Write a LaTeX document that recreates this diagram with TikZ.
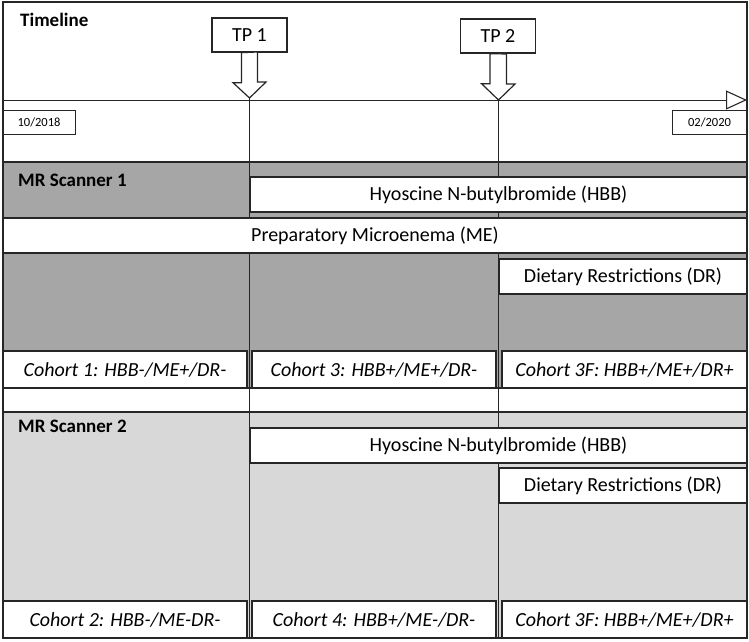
\documentclass[tikz,border=0pt]{standalone}
\usepackage{fontspec}
\setmainfont{Carlito}
\usetikzlibrary{arrows.meta,calc}
\definecolor{dgrey}{HTML}{A6A6A6}
\definecolor{lgrey}{HTML}{D8D8D8}
\definecolor{ln}{HTML}{262626}
\begin{document}
\begin{tikzpicture}[x=1pt,y=-1pt,
  box/.style={draw=ln, line width=1.3pt, fill=white, inner sep=0pt, font=\fontsize{20}{24}\selectfont},
  cbox/.style={box, minimum height=37, font=\fontsize{20}{24}\selectfont\itshape},
  bar/.style={box, minimum height=35},
  tpbox/.style={box, minimum width=75, minimum height=34},
  datebox/.style={box, line width=1pt, minimum height=24, font=\fontsize{12.5}{14}\selectfont},
  title/.style={anchor=base west, inner sep=0pt, font=\fontsize{19}{22}\selectfont\bfseries},
  thinline/.style={draw=ln, line width=0.9pt},
  sepline/.style={draw=ln, line width=1.4pt},
  blockarrow/.style={draw=ln, fill=white, line width=1.2pt, line join=miter}]
\useasboundingbox (0,0) rectangle (749,641);
% backgrounds
\fill[dgrey] (3,162) rectangle (747,388);
\fill[lgrey] (3,412) rectangle (747,638);
% timeline
\coordinate (ts) at (3,100);
\coordinate (te) at (747,100);
\draw[thinline, -{Triangle[open, length=21pt, width=19pt, line width=1.1pt]}] (ts) -- (te);
\node[title] (tl) at (20,26) {Timeline};
\node[tpbox] (tp1) at (249.5,35) {TP 1};
\node[tpbox] (tp2) at (498,36) {TP 2};
\coordinate (tip1) at (249.5,98);
\coordinate (tip2) at (498.5,100);
\coordinate (v1b) at (249.5,638);
\coordinate (v2b) at (498.5,638);
\draw[thinline] (tip1) -- (v1b);
\draw[thinline] (tip2) -- (v2b);
\draw[blockarrow] ($(tp1.south)+(-8,0)$) -- ++(0,30) -- ++(-8.5,0) -- (tip1) -- ++(16.5,-16) -- ++(-8.5,0) -- ++(0,-30) -- cycle;
\draw[blockarrow] ($(tp2.south)+(-8,0)$) -- ++(0,30) -- ++(-8.5,0) -- (tip2) -- ++(16.5,-16) -- ++(-8.5,0) -- ++(0,-30) -- cycle;
\node[datebox, minimum width=72] (d1) at (39,122) {10/2018};
\node[datebox, minimum width=75] (d2) at (709.5,122) {02/2020};
% separators
\draw[sepline] (3,162) -- (747,162);
\draw[sepline] (3,412) -- (747,412);
\draw[sepline] (3,388) -- (747,388);
% scanner 1
\node[title] (s1) at (18,186) {MR Scanner 1};
\node[bar, minimum width=497] (hbb1) at (498.5,194.5) {Hyoscine N-butylbromide (HBB)};
\node[bar, minimum width=744] (me) at (375,235.5) {Preparatory Microenema (ME)};
\node[bar, minimum width=248] (dr1) at (623,276.5) {Dietary Restrictions (DR)};
\node[cbox, minimum width=244] (c1) at (125,369.5) {Cohort 1: HBB-/ME+/DR-};
\node[cbox, minimum width=244] (c3) at (374,369.5) {Cohort 3: HBB+/ME+/DR-};
\node[cbox, minimum width=245] (c3f) at (624.5,369.5) {Cohort 3F: HBB+/ME+/DR+};
% scanner 2
\node[title] (s2) at (18,432) {MR Scanner 2};
\node[bar, minimum width=497] (hbb2) at (498.5,445.5) {Hyoscine N-butylbromide (HBB)};
\node[bar, minimum width=248] (dr2) at (623,485.5) {Dietary Restrictions (DR)};
\node[cbox, minimum width=244] (c2) at (125,619.5) {Cohort 2: HBB-/ME-DR-};
\node[cbox, minimum width=244] (c4) at (374,619.5) {Cohort 4: HBB+/ME-/DR-};
\node[cbox, minimum width=245] (c3f2) at (624.5,619.5) {Cohort 3F: HBB+/ME+/DR+};
% outer frame
\draw[draw=ln, line width=1.5pt] (3,2) rectangle (747,638);
\end{tikzpicture}
\end{document}
